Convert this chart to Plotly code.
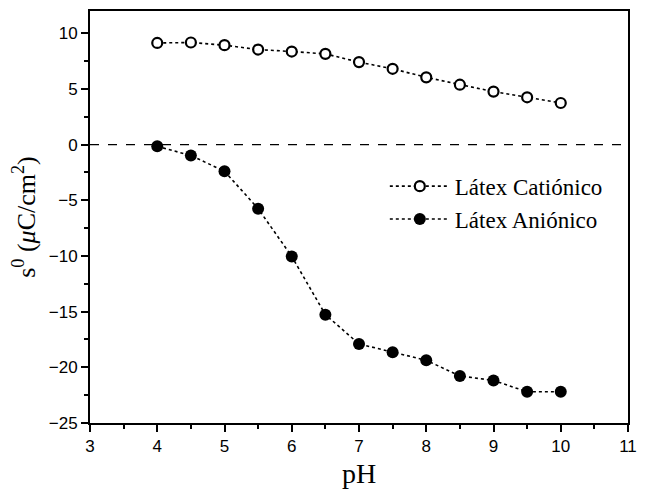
import plotly.graph_objects as go

ph = [4, 4.5, 5, 5.5, 6, 6.5, 7, 7.5, 8, 8.5, 9, 9.5, 10]
cationico = [9.13, 9.17, 8.93, 8.54, 8.36, 8.15, 7.41, 6.81, 6.04, 5.38, 4.76, 4.25, 3.74]
anionico = [-0.15, -0.98, -2.39, -5.75, -10.04, -15.27, -17.9, -18.65, -19.37, -20.77, -21.18, -22.2, -22.2]

fig = go.Figure()
fig.add_trace(go.Scatter(
    x=ph, y=cationico, name="Látex Catiónico", mode="lines+markers",
    line=dict(color="black", width=1.6, dash="dot"),
    marker=dict(symbol="circle", size=10, color="white", line=dict(color="black", width=2.2)),
))
fig.add_trace(go.Scatter(
    x=ph, y=anionico, name="Látex Aniónico", mode="lines+markers",
    line=dict(color="black", width=1.6, dash="dot"),
    marker=dict(symbol="circle", size=12, color="black", line=dict(color="black", width=0)),
))

fig.add_shape(type="line", xref="paper", yref="y", x0=0, x1=1, y0=0, y1=0,
              line=dict(color="black", width=1.3, dash="dash"), layer="below")

axis_common = dict(
    showgrid=False, zeroline=False, showline=True, linecolor="black", linewidth=2,
    mirror=True, ticks="outside", ticklen=7, tickwidth=1.5, tickcolor="black",
    tickfont=dict(family="Liberation Sans, Arial", size=17, color="black"),
)

fig.update_layout(
    width=644, height=485,
    margin=dict(l=82, r=24, t=1, b=70),
    plot_bgcolor="white", paper_bgcolor="white",
    showlegend=True,
    legend=dict(x=0.548, y=0.627, xanchor="left", yanchor="top",
                bgcolor="rgba(0,0,0,0)", tracegroupgap=0, itemwidth=60,
                font=dict(family="Liberation Serif, Times New Roman", size=23, color="black")),
    xaxis=dict(range=[3, 11], dtick=1, tick0=3,
               minor=dict(ticks="outside", ticklen=4, tickwidth=1.5, tickcolor="black", dtick=0.5),
               title=dict(text="pH", font=dict(family="Liberation Serif, Times New Roman", size=28, color="black"), standoff=8),
               **axis_common),
    yaxis=dict(range=[-25, 12], tickvals=[-25, -20, -15, -10, -5, 0, 5, 10],
               minor=dict(ticks="outside", ticklen=4, tickwidth=1.5, tickcolor="black", tickvals=[-22.5, -17.5, -12.5, -7.5, -2.5, 2.5, 7.5]),
               title=dict(text="s<sup>0</sup> (<i>μ</i>C/cm<sup>2</sup>)", font=dict(family="Liberation Serif, Times New Roman", size=26, color="black"), standoff=6),
               **axis_common),
)

fig.write_html("out.html")
